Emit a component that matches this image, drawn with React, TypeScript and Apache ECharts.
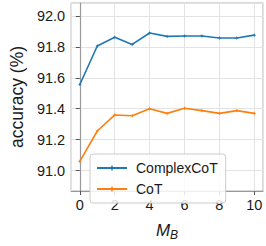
import React, { useEffect, useRef } from "react";
import * as echarts from "echarts";

const xValues = [0, 1, 2, 3, 4, 5, 6, 7, 8, 9, 10];
const complexCoT = [91.557, 91.806, 91.862, 91.816, 91.89, 91.868, 91.871, 91.871, 91.858, 91.858, 91.876];
const coT = [91.06, 91.256, 91.36, 91.355, 91.4, 91.37, 91.403, 91.388, 91.37, 91.388, 91.37];
const seriesNames = ["ComplexCoT", "CoT"];
const colors = ["#1f77b4", "#ff7f0e"];

const FONT = "Liberation Sans, Arial, sans-serif";

export default function App() {
  const ref = useRef<HTMLDivElement>(null);
  useEffect(() => {
    if (!ref.current) return;
    const chart = echarts.init(ref.current, undefined, { renderer: "svg" });
    const mk = (name: string, data: number[], color: string) => ({
      name,
      type: "line",
      data: xValues.map((x, i) => [x, data[i]]),
      symbol: "path://M0,-1L0.3,-0.3L1,0L0.3,0.3L0,1L-0.3,0.3L-1,0L-0.3,-0.3Z",
      symbolSize: 4,
      itemStyle: { color },
      lineStyle: { color, width: 1.6 },
      z: 3,
    });
    chart.setOption({
      animation: false,
      textStyle: { fontFamily: FONT },
      grid: { left: 53, right: 3, top: 3, bottom: 40, show: true, borderColor: "#b0b0b0", borderWidth: 1 },
      legend: {
        orient: "vertical",
        left: 90,
        top: 154,
        width: 136,
        data: seriesNames,
        itemWidth: 30,
        itemHeight: 8,
        itemGap: 7,
        padding: [7, 8, 7, 6],
        backgroundColor: "rgba(255,255,255,0.85)",
        borderColor: "#cccccc",
        borderWidth: 1,
        borderRadius: 3,
        textStyle: { fontFamily: FONT, fontSize: 14, color: "#1a1a1a", padding: [0, 0, 0, 4] },
      },
      xAxis: {
        type: "value",
        min: -0.5,
        max: 10.5,
        splitNumber: 5,
        name: "{m|M}{b|B}",
        nameLocation: "middle",
        nameGap: 29,
        nameTextStyle: {
          rich: {
            m: { fontFamily: FONT, fontSize: 17, fontStyle: "italic", color: "#1a1a1a" },
            b: { fontFamily: FONT, fontSize: 12, fontStyle: "italic", color: "#1a1a1a", padding: [9, 0, 0, 0] },
          },
        },
        axisLine: { show: true, lineStyle: { color: "#999", width: 1.2 } },
        axisTick: { show: true, length: 4, lineStyle: { color: "#555" } },
        axisLabel: { fontSize: 14.5, color: "#1a1a1a", margin: 6, showMinLabel: false, showMaxLabel: false, fontFamily: FONT },
        splitLine: { show: true, lineStyle: { color: "#e3e3e3", width: 1 } },
      },
      yAxis: {
        type: "value",
        min: 90.868,
        max: 92.084,
        splitNumber: 6,
        name: "accuracy (%)",
        nameLocation: "middle",
        nameGap: 42,
        nameTextStyle: { fontSize: 17.5, color: "#1a1a1a", fontFamily: FONT },
        axisLine: { show: true, lineStyle: { color: "#999", width: 1.2 } },
        axisTick: { show: true, length: 4, lineStyle: { color: "#555" } },
        axisLabel: {
          fontSize: 14.5,
          color: "#1a1a1a",
          margin: 6,
          showMinLabel: false,
          showMaxLabel: false,
          fontFamily: FONT,
          formatter: (v: number) => v.toFixed(1),
        },
        splitLine: { show: true, lineStyle: { color: "#e3e3e3", width: 1 } },
      },
      series: [mk(seriesNames[0], complexCoT, colors[0]), mk(seriesNames[1], coT, colors[1])],
    });
    return () => chart.dispose();
  }, []);
  return <div ref={ref} style={{ width: 266, height: 246, position: "absolute", left: 0, top: 0 }} />;
}
